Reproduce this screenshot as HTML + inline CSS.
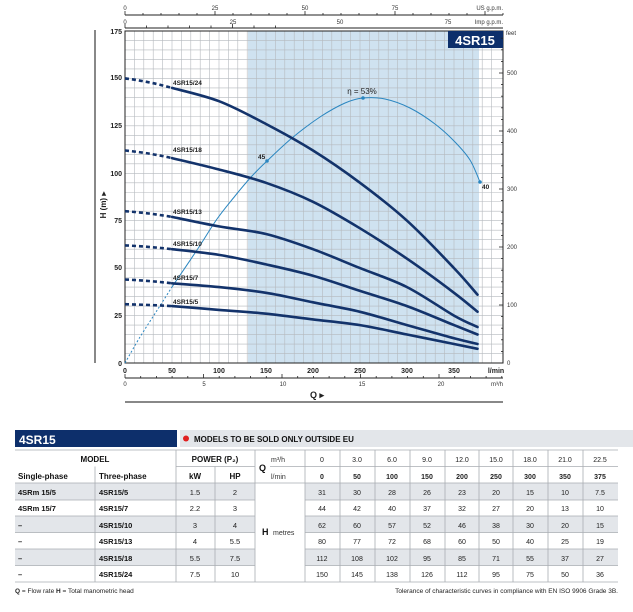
<!DOCTYPE html>
<html><head><meta charset="utf-8"><style>
html,body{margin:0;padding:0;background:#fff;}
svg{display:block;font-family:"Liberation Sans",sans-serif;}
</style></head><body>
<svg width="633" height="612" viewBox="0 0 633 612" xmlns="http://www.w3.org/2000/svg">
<g font-size="6" fill="#333">
<line x1="125" y1="15" x2="503" y2="15" stroke="#222" stroke-width="1"/>
<g stroke="#222" stroke-width="0.8" id="ustk"></g>
<text x="125" y="10" text-anchor="middle">0</text><text x="215" y="10" text-anchor="middle">25</text><text x="305" y="10" text-anchor="middle">50</text><text x="395" y="10" text-anchor="middle">75</text>
<text x="503" y="10" text-anchor="end">US g.p.m.</text>
<line x1="125" y1="28" x2="503" y2="28" stroke="#222" stroke-width="1"/>
<text x="125" y="24" text-anchor="middle">0</text><text x="233" y="24" text-anchor="middle">25</text><text x="340" y="24" text-anchor="middle">50</text><text x="448" y="24" text-anchor="middle">75</text>
<text x="503" y="24" text-anchor="end">Imp g.p.m.</text>
</g>
<rect x="248" y="31" width="231" height="332" fill="#cfe2f0"/>
<g id="grid" stroke="#b5b9be" stroke-width="0.6"></g>
<rect x="125" y="31" width="378" height="332" fill="none" stroke="#222" stroke-width="1"/>
<rect x="448" y="31" width="55" height="17" fill="#0d2f6b"/>
<text x="475" y="45" font-size="13" font-weight="bold" fill="#fff" text-anchor="middle">4SR15</text>
<text x="506" y="35" font-size="6" fill="#333">feet</text>
<line x1="95" y1="30" x2="95" y2="363" stroke="#111" stroke-width="1"/>
<g font-size="7" font-weight="bold" fill="#222" text-anchor="end">
<text x="122" y="34">175</text><text x="122" y="80">150</text><text x="122" y="128">125</text><text x="122" y="176">100</text><text x="122" y="223">75</text><text x="122" y="270">50</text><text x="122" y="318">25</text><text x="122" y="366">0</text>
</g>
<text transform="translate(106,205) rotate(-90)" font-size="8" font-weight="bold" text-anchor="middle" fill="#222">H  (m)  ▸</text>
<g font-size="6" fill="#333">
<text x="507" y="365">0</text><text x="507" y="307">100</text><text x="507" y="249">200</text><text x="507" y="191">300</text><text x="507" y="133">400</text><text x="507" y="75">500</text>
</g>
<g id="rtk" stroke="#222" stroke-width="0.8"></g>
<g font-size="7" font-weight="bold" fill="#222" text-anchor="middle">
<text x="125" y="373">0</text><text x="172" y="373">50</text><text x="219" y="373">100</text><text x="266" y="373">150</text><text x="313" y="373">200</text><text x="360" y="373">250</text><text x="407" y="373">300</text><text x="454" y="373">350</text>
<text x="496" y="373">l/min</text>
</g>
<line x1="125" y1="378" x2="503" y2="378" stroke="#222" stroke-width="1"/>
<g id="mtk" stroke="#222" stroke-width="0.8"></g>
<g font-size="6" fill="#333" text-anchor="middle">
<text x="125" y="386">0</text><text x="204" y="386">5</text><text x="283" y="386">10</text><text x="362" y="386">15</text><text x="441" y="386">20</text>
<text x="503" y="386" text-anchor="end">m³/h</text>
</g>
<text x="317" y="398" font-size="9" font-weight="bold" fill="#222" text-anchor="middle">Q  ▸</text>
<line x1="125" y1="402" x2="503" y2="402" stroke="#111" stroke-width="1"/>
<g id="eff" fill="none" stroke="#2a86c0" stroke-width="1"></g>
<circle cx="267" cy="161" r="1.8" fill="#2a86c0"/><circle cx="363" cy="98" r="1.8" fill="#2a86c0"/><circle cx="480" cy="182" r="1.8" fill="#2a86c0"/>
<g font-size="6.5" font-weight="bold" fill="#222">
<text x="258" y="159">45</text><text x="482" y="189">40</text>
</g>
<text x="362" y="94" font-size="8" fill="#222" text-anchor="middle">η = 53%</text>
<g id="pc" fill="none" stroke="#13336b" stroke-width="2.6" stroke-linecap="round"></g>
<g font-size="6.5" font-weight="bold" fill="#222">
<text x="173" y="85">4SR15/24</text><text x="173" y="152">4SR15/18</text><text x="173" y="214">4SR15/13</text><text x="173" y="246">4SR15/10</text><text x="173" y="280">4SR15/7</text><text x="173" y="304">4SR15/5</text>
</g>

<rect x="15" y="430" width="162" height="17" fill="#0d2f6b"/>
<text x="19" y="444" font-size="12" font-weight="bold" fill="#fff">4SR15</text>
<rect x="180" y="430" width="453" height="17" fill="#e3e6ea"/>
<circle cx="186" cy="438.5" r="3" fill="#e02020"/>
<text x="194" y="442" font-size="8" font-weight="bold" fill="#111">MODELS TO BE SOLD ONLY OUTSIDE EU</text>
<g fill="#e3e6ea">
<rect x="15" y="483" width="240" height="17"/><rect x="305" y="483" width="313" height="17"/>
<rect x="15" y="516" width="240" height="16.5"/><rect x="305" y="516" width="313" height="16.5"/>
<rect x="15" y="549" width="240" height="16.5"/><rect x="305" y="549" width="313" height="16.5"/>
</g>
<g stroke="#a9adb2" stroke-width="0.8">
<line x1="15" y1="450" x2="618" y2="450"/>
<line x1="15" y1="483" x2="618" y2="483"/>
<line x1="15" y1="500" x2="255" y2="500"/><line x1="305" y1="500" x2="618" y2="500"/>
<line x1="15" y1="516" x2="255" y2="516"/><line x1="305" y1="516" x2="618" y2="516"/>
<line x1="15" y1="532.5" x2="255" y2="532.5"/><line x1="305" y1="532.5" x2="618" y2="532.5"/>
<line x1="15" y1="549" x2="255" y2="549"/><line x1="305" y1="549" x2="618" y2="549"/>
<line x1="15" y1="565.5" x2="255" y2="565.5"/><line x1="305" y1="565.5" x2="618" y2="565.5"/>
<line x1="15" y1="582" x2="618" y2="582"/>
<line x1="176" y1="466.5" x2="255" y2="466.5"/><line x1="270" y1="466.5" x2="618" y2="466.5"/>
<line x1="95" y1="466.5" x2="95" y2="582"/>
<line x1="176" y1="450" x2="176" y2="582"/><line x1="215" y1="466.5" x2="215" y2="582"/>
<line x1="255" y1="450" x2="255" y2="582"/><line x1="305" y1="450" x2="305" y2="582"/>
<line x1="340" y1="450" x2="340" y2="582"/><line x1="375" y1="450" x2="375" y2="582"/><line x1="410" y1="450" x2="410" y2="582"/><line x1="445" y1="450" x2="445" y2="582"/><line x1="479" y1="450" x2="479" y2="582"/><line x1="513" y1="450" x2="513" y2="582"/><line x1="548" y1="450" x2="548" y2="582"/><line x1="583" y1="450" x2="583" y2="582"/>
</g>
<g font-size="8" fill="#111" font-weight="bold">
<text x="95" y="462" text-anchor="middle">MODEL</text>
<text x="215" y="462" text-anchor="middle">POWER (P₂)</text>
<text x="18" y="479">Single-phase</text><text x="99" y="479">Three-phase</text>
<text x="195" y="479" text-anchor="middle">kW</text><text x="235" y="479" text-anchor="middle">HP</text>
<text x="259" y="471" font-size="9">Q</text>
<text x="262" y="535" font-size="9">H</text>
</g>
<g font-size="7" fill="#333"><text x="271" y="462">m³/h</text><text x="271" y="479">l/min</text><text x="273" y="535">metres</text></g>
<g font-size="7.5" fill="#111" font-weight="bold">
<text x="18" y="495">4SRm 15/5</text><text x="18" y="511">4SRm 15/7</text><text x="18" y="528">–</text><text x="18" y="544">–</text><text x="18" y="561">–</text><text x="18" y="577">–</text>
<text x="99" y="495">4SR15/5</text><text x="99" y="511">4SR15/7</text><text x="99" y="528">4SR15/10</text><text x="99" y="544">4SR15/13</text><text x="99" y="561">4SR15/18</text><text x="99" y="577">4SR15/24</text>
</g>
<g font-size="7.5" fill="#222" text-anchor="middle">
<text x="195" y="495">1.5</text><text x="235" y="495">2</text>
<text x="195" y="511">2.2</text><text x="235" y="511">3</text>
<text x="195" y="528">3</text><text x="235" y="528">4</text>
<text x="195" y="544">4</text><text x="235" y="544">5.5</text>
<text x="195" y="561">5.5</text><text x="235" y="561">7.5</text>
<text x="195" y="577">7.5</text><text x="235" y="577">10</text>
</g>
<g font-size="7" fill="#222" text-anchor="middle" id="dat"></g>
<text x="15" y="593" font-size="6.5" fill="#222"><tspan font-weight="bold">Q</tspan> = Flow rate   <tspan font-weight="bold">H</tspan> = Total manometric head</text>
<text x="618" y="593" font-size="6.5" fill="#222" text-anchor="end">Tolerance of characteristic curves in compliance with EN ISO 9906 Grade 3B.</text>
</svg>
<script>
var NS="http://www.w3.org/2000/svg";
function L(g,x1,y1,x2,y2){var l=document.createElementNS(NS,"line");l.setAttribute("x1",x1);l.setAttribute("y1",y1);l.setAttribute("x2",x2);l.setAttribute("y2",y2);g.appendChild(l);}
function smooth(p){var d="M"+p[0][0]+","+p[0][1];for(var i=0;i<p.length-1;i++){var p0=p[i-1]||p[i],p1=p[i],p2=p[i+1],p3=p[i+2]||p2;
var c1x=p1[0]+(p2[0]-p0[0])/6,c1y=p1[1]+(p2[1]-p0[1])/6,c2x=p2[0]-(p3[0]-p1[0])/6,c2y=p2[1]-(p3[1]-p1[1])/6;
d+=" C"+c1x.toFixed(1)+","+c1y.toFixed(1)+" "+c2x.toFixed(1)+","+c2y.toFixed(1)+" "+p2[0]+","+p2[1];}return d;}
function P(g,d,dash){var e=document.createElementNS(NS,"path");e.setAttribute("d",d);if(dash){e.setAttribute("stroke-dasharray",dash);e.setAttribute("stroke-linecap","butt");}g.appendChild(e);}
var g=document.getElementById("grid");
for(var i=1;i<40;i++){var x=125+i*9.4;L(g,x,31,x,363);}
for(var j=1;j<35;j++){var y=363-j*9.486;L(g,125,y,503,y);}
var u=document.getElementById("ustk");
for(var i=0;i<=21;i++){var x=125+i*18;if(x>503)break;L(u,x,15,x,i%5==0?11:13);}
for(var i=0;i<=35;i++){var x=125+i*4.3;if(x>503)break;L(u,x,28,x,i%25==0?24:(i%5==0?25.5:28));}
var r=document.getElementById("rtk");
for(var i=0;i<=28;i++){var y=363-i*11.6;if(y<31)break;L(r,503,y,i%5==0?499:501,y);}
var m=document.getElementById("mtk");
for(var i=0;i<=24;i++){var x=125+i*15.7;if(x>503)break;L(m,x,378,x,i%5==0?374:376);}
var cols=[322,357,392,427,462,496,530,565,600];
var hdr1=["0","3.0","6.0","9.0","12.0","15.0","18.0","21.0","22.5"],hdr2=["0","50","100","150","200","250","300","350","375"];
var rows=[[31,30,28,26,23,20,15,10,7.5],[44,42,40,37,32,27,20,13,10],[62,60,57,52,46,38,30,20,15],[80,77,72,68,60,50,40,25,19],[112,108,102,95,85,71,55,37,27],[150,145,138,126,112,95,75,50,36]];
var ys=[495,511,528,544,561,577],d=document.getElementById("dat");
function T(x,y,s,b){var t=document.createElementNS(NS,"text");t.setAttribute("x",x);t.setAttribute("y",y);if(b)t.setAttribute("font-weight","bold");t.textContent=s;d.appendChild(t);}
for(var c=0;c<9;c++){T(cols[c],462,hdr1[c]);T(cols[c],479,hdr2[c],1);for(var k=0;k<6;k++)T(cols[c],ys[k],String(rows[k][c]));}
// pump curves
var pc=document.getElementById("pc"),Q=[0,50,100,150,200,250,300,350,375];
rows.forEach(function(h){var pts=Q.map(function(q,i){return [+(125+0.94*q).toFixed(1),+(363-1.897*h[i]).toFixed(1)];});
var mid=[(pts[0][0]+pts[1][0])/2,(pts[0][1]*0.45+pts[1][1]*0.55)];
P(pc,"M"+pts[0][0]+","+pts[0][1]+" Q"+mid[0]+","+(pts[0][1]+ (pts[1][1]-pts[0][1])*0.3).toFixed(1)+" "+pts[1][0]+","+pts[1][1],"4,3");
P(pc,smooth(pts.slice(1)));});
// efficiency
var ef=document.getElementById("eff");
P(ef,smooth([[125,363],[140,337],[156,312],[172,287]]),"2,2");
P(ef,smooth([[172,287],[197,250],[217,219],[235,196],[252,176],[267,161],[292,138],[320,117],[345,103],[363,98],[385,99],[410,108],[435,124],[455,142],[470,160],[480,182]]));
</script>
</body></html>
